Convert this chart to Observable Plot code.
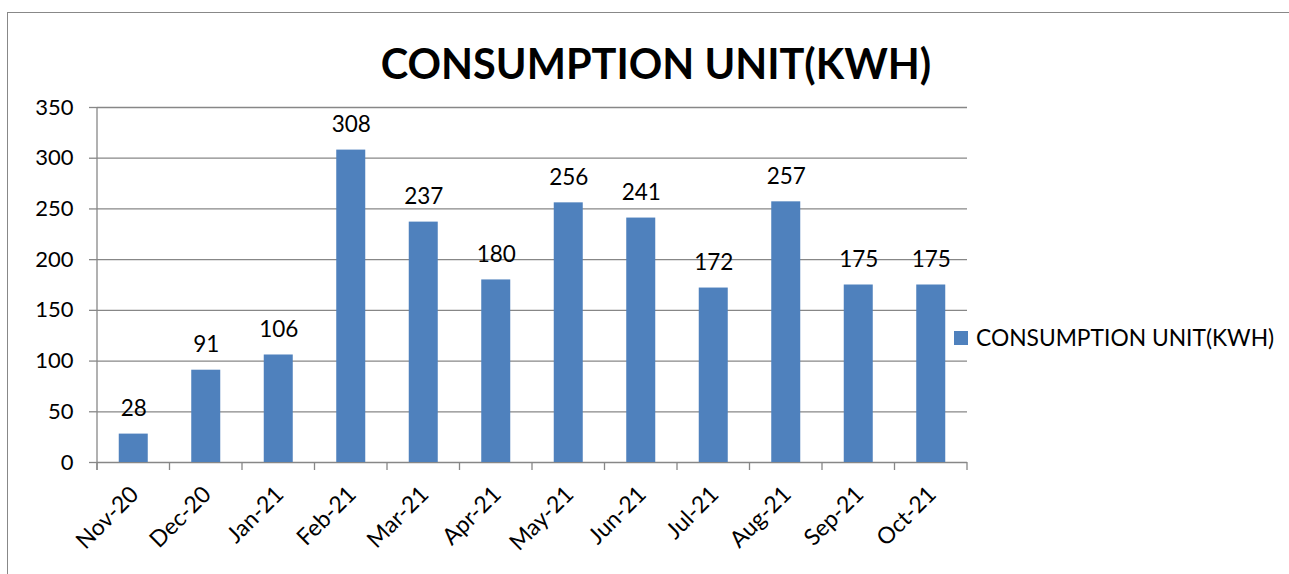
<!DOCTYPE html>
<html><head><meta charset="utf-8">
<script src="https://cdn.jsdelivr.net/npm/d3@7"></script>
<script src="https://cdn.jsdelivr.net/npm/@observablehq/plot@0.6"></script>
<style>
body{margin:0;background:#fff;}
#wrap{position:relative;width:1289px;height:574px;overflow:hidden;font-family:Lato,sans-serif;}
#frame{position:absolute;left:7px;top:12px;width:1400px;height:700px;border-left:1.5px solid #888;border-top:1.5px solid #888;}
#title{position:absolute;left:0;width:1312px;text-align:center;top:43px;font-weight:bold;font-size:41.5px;line-height:41.5px;color:#000;}
#legend{position:absolute;left:954px;top:326px;font-size:22.8px;line-height:22.8px;color:#000;white-space:nowrap;}
#legend .sw{position:absolute;left:0;top:5px;width:14px;height:14px;}
#legend .lab{position:absolute;left:22px;top:0;}
#chart{position:absolute;left:0;top:0;}
</style></head>
<body>
<div id="wrap">
  <div id="frame"></div>
  <div id="chart"></div>
  <div id="title"></div>
  <div id="legend"><div class="sw"></div><div class="lab"></div></div>
</div>
<script>
const titleText = "CONSUMPTION UNIT(KWH)";
const seriesName = "CONSUMPTION UNIT(KWH)";
const months = ["Nov-20","Dec-20","Jan-21","Feb-21","Mar-21","Apr-21","May-21","Jun-21","Jul-21","Aug-21","Sep-21","Oct-21"];
const values = [28,91,106,308,237,180,256,241,172,257,175,175];
const yTicks = [0,50,100,150,200,250,300,350];
const barColor = "#4F81BD";
const gridColor = "#878787";

const data = months.map((m,i)=>({month:m, value:values[i]}));

document.getElementById("title").textContent = titleText;
document.querySelector("#legend .lab").textContent = seriesName;
document.querySelector("#legend .sw").style.background = barColor;

const chart = Plot.plot({
  width:1289, height:574,
  marginTop:107, marginBottom:112, marginLeft:97, marginRight:322,
  style:{fontFamily:"Lato, sans-serif", fontSize:"22px", color:"#000", background:"transparent"},
  x:{domain:months, paddingInner:0.6, paddingOuter:0.3, round:false, label:null},
  y:{domain:[0,350], label:null},
  marks:[
    Plot.gridY(yTicks, {stroke:gridColor, strokeOpacity:1, strokeWidth:1.3}),
    Plot.barY(data, {x:"month", y:"value", fill:barColor}),
    Plot.text(data, {x:"month", y:"value", text:d=>String(d.value), dy:-25, fill:"#000", fontSize:22.5}),
    Plot.axisY({ticks:yTicks, tickSize:8, tickPadding:16, stroke:gridColor, fill:"#000", label:null, strokeWidth:1.3, fontSize:22}),
    Plot.axisX({tickSize:0, tickRotate:-45, tickPadding:28, dx:1, label:null, fill:"#000", fontSize:23})
  ]
});
document.getElementById("chart").appendChild(chart);

const sx = chart.scale("x"), sy = chart.scale("y");
const gap = sx.step - sx.bandwidth;
const bounds = months.map(m => sx.apply(m) - gap/2);
bounds.push(sx.apply(months[months.length-1]) + sx.bandwidth + gap/2);
const y0 = sy.apply(0), yTop = sy.apply(yTicks[yTicks.length-1]);
const g = d3.select(chart).append("g").attr("stroke", gridColor).attr("stroke-width", 1.3);
bounds.forEach(x => g.append("line").attr("x1",x).attr("x2",x).attr("y1",y0).attr("y2",y0+8));
g.append("line").attr("x1",bounds[0]).attr("x2",bounds[0]).attr("y1",yTop).attr("y2",y0+8);
</script>
</body></html>
